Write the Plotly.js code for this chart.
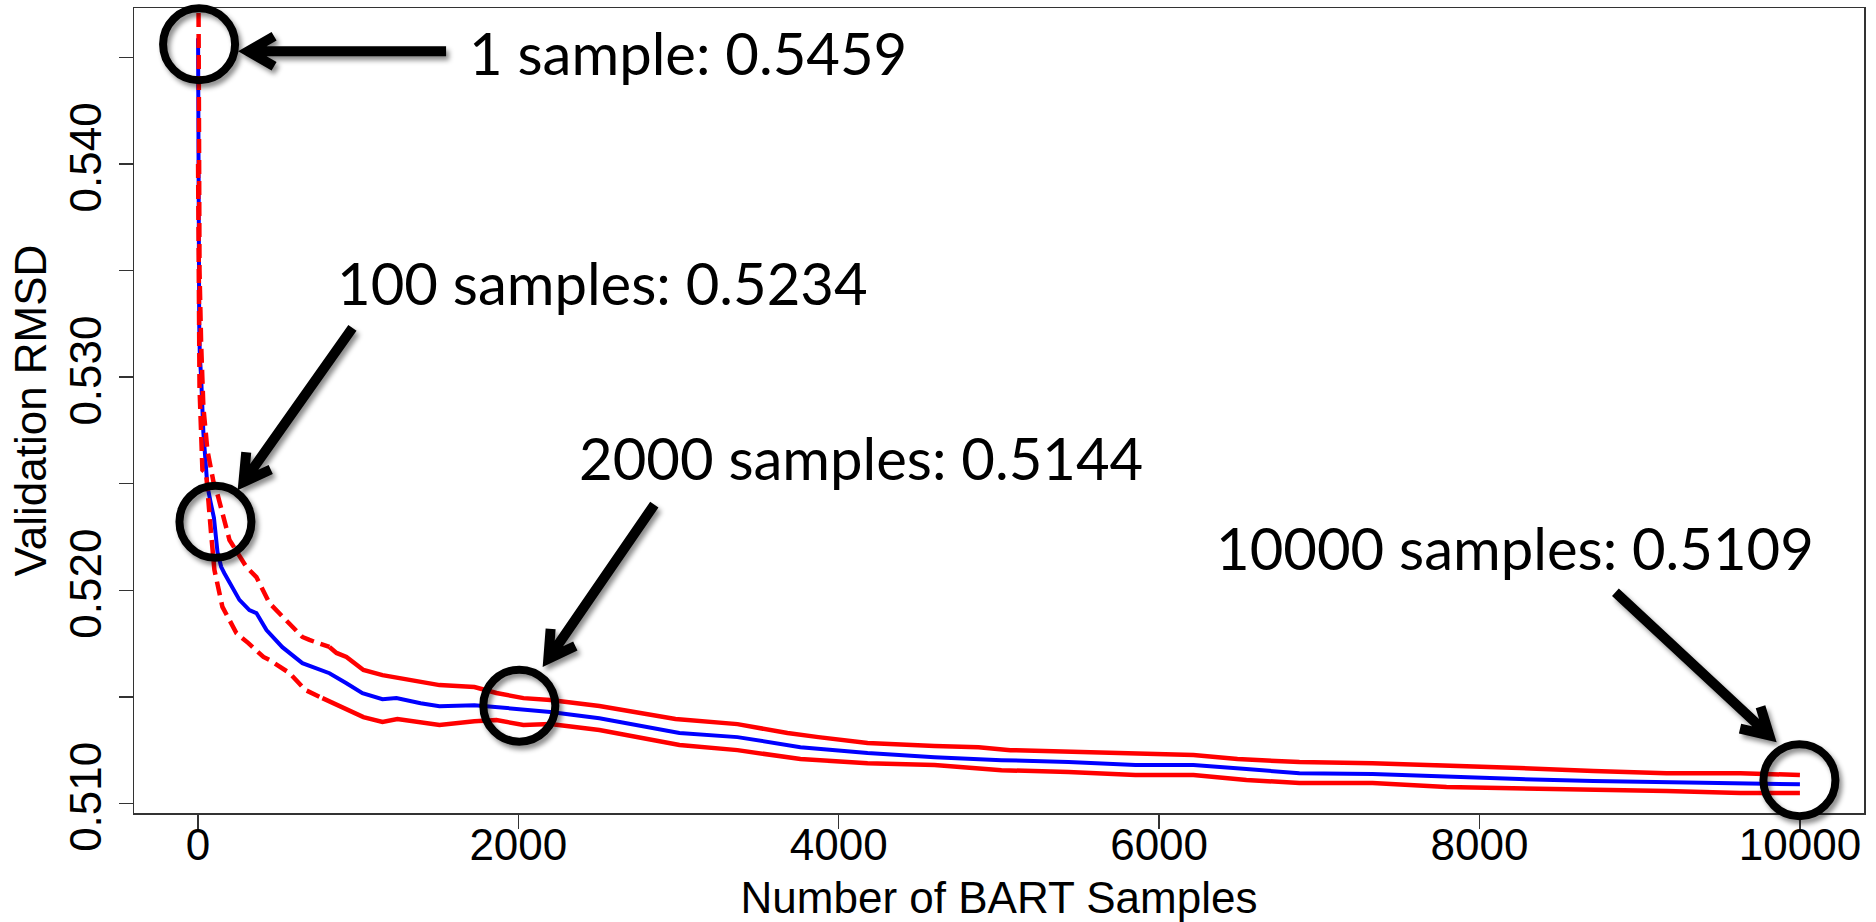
<!DOCTYPE html>
<html><head><meta charset="utf-8">
<script src="https://cdn.plot.ly/plotly-3.0.1.min.js"></script>
<style>
html,body{margin:0;padding:0;background:#fff;}
#chart{width:1876px;height:922px;}
#chart .shapelayer path{filter:url(#dshadow);}
</style></head><body>
<svg width="0" height="0" style="position:absolute"><defs>
<filter id="dshadow" filterUnits="userSpaceOnUse" x="-5000" y="-5000" width="12000" height="12000">
<feDropShadow dx="3" dy="4" stdDeviation="2.5" flood-color="#000" flood-opacity="0.45"/>
</filter></defs></svg>
<div id="chart"></div>
<script>
// ---- data ----
const blueN = [1,2,3,5,8,12,20,34,59,80,100,122,145,165,215,240,259,321,365,428,527,652,821,927,1027,1152,1239,1390,1508,1726,1863,2000,2200,2506,3006,3368,3761,4180,4598,5016,5434,5852,6214,6545,6876,7332,7794,8249,8711,9167,9629,10000];
const blueV = [0.54590,0.54150,0.53880,0.53520,0.53250,0.53100,0.53000,0.52740,0.52490,0.52410,0.52340,0.52180,0.52110,0.52080,0.52016,0.51987,0.51955,0.51907,0.51893,0.51813,0.51733,0.51658,0.51611,0.51564,0.51517,0.51489,0.51494,0.51470,0.51456,0.51461,0.51452,0.51440,0.51429,0.51400,0.51330,0.51311,0.51264,0.51236,0.51217,0.51203,0.51194,0.51180,0.51180,0.51161,0.51142,0.51138,0.51124,0.51114,0.51105,0.51100,0.51096,0.51090];

const upperN = [1,3,5,10,20,34,59,84,103,115,197,303,365,446,527,652,696,821,865,927,1033,1152,1390,1508,1726,1863,2032,2200,2506,2644,2981,3368,3680,3873,4180,4598,4873,5072,5434,5852,6214,6489,6876,7332,7794,8249,8711,9167,9629,10000];
const upperV = [0.55300,0.54400,0.53900,0.53500,0.53159,0.52860,0.52658,0.52565,0.52485,0.52471,0.52236,0.52109,0.52062,0.51940,0.51875,0.51781,0.51767,0.51734,0.51706,0.51687,0.51626,0.51602,0.51569,0.51555,0.51546,0.51518,0.51494,0.51485,0.51457,0.51438,0.51396,0.51372,0.51330,0.51311,0.51283,0.51269,0.51264,0.51250,0.51241,0.51231,0.51227,0.51208,0.51194,0.51189,0.51180,0.51166,0.51152,0.51142,0.51142,0.51133];

const lowerN = [1,3,5,10,20,28,51,72,82,103,134,153,197,240,315,340,409,446,571,671,777,908,1033,1152,1245,1508,1726,1863,2032,2200,2506,3006,3368,3761,4180,4598,5016,5434,5852,6214,6545,6876,7332,7794,8249,8711,9167,9629,10000];
const lowerV = [0.54000,0.53600,0.53208,0.52950,0.52738,0.52565,0.52550,0.52330,0.52269,0.52095,0.51987,0.51922,0.51860,0.51799,0.51752,0.51733,0.51687,0.51673,0.51612,0.51532,0.51494,0.51447,0.51405,0.51382,0.51396,0.51368,0.51386,0.51391,0.51368,0.51372,0.51344,0.51274,0.51250,0.51208,0.51189,0.51180,0.51156,0.51147,0.51133,0.51133,0.51110,0.51096,0.51096,0.51077,0.51072,0.51067,0.51058,0.51049,0.51049];

const markN = [1, 100, 2000, 10000];
const markV = [0.5459, 0.5234, 0.5144, 0.5109];

const xTicks = [0, 2000, 4000, 6000, 8000, 10000];
const xTickText = ['0', '2000', '4000', '6000', '8000', '10000'];
const yTicks = [0.510, 0.515, 0.520, 0.525, 0.530, 0.535, 0.540, 0.545];
const yTickText = ['0.510', '', '0.520', '', '0.530', '', '0.540', ''];

const xTitle = 'Number of BART Samples';
const yTitle = 'Validation RMSD';

// ---- styling / layout ----
const xRange = [-399, 10400];
const yRange = [0.50955, 0.54732];
const dashEnd = 700;

function split(N, V) {
  const k = N.findIndex(n => n > dashEnd);
  return {dN: N.slice(0, k + 1), dV: V.slice(0, k + 1), sN: N.slice(k), sV: V.slice(k)};
}
const up = split(upperN, upperV), lo = split(lowerN, lowerV);
const RED = '#ff0000', BLUE = '#0000ff';
const redDash = {color: RED, width: 4.5, dash: '14px,7px'};
const redSolid = {color: RED, width: 4.5};

const traces = [
  {x: blueN, y: blueV, mode: 'lines', line: {color: BLUE, width: 4}, hoverinfo: 'skip'},
  {x: up.dN, y: up.dV, mode: 'lines', line: redDash, hoverinfo: 'skip'},
  {x: up.sN, y: up.sV, mode: 'lines', line: redSolid, hoverinfo: 'skip'},
  {x: lo.dN, y: lo.dV, mode: 'lines', line: redDash, hoverinfo: 'skip'},
  {x: lo.sN, y: lo.sV, mode: 'lines', line: redSolid, hoverinfo: 'skip'}
];

// overlay geometry, screen-pixel offsets from each marked point (y down)
const circleOff = [[1, 6], [1.5, 4], [1, -4], [-0.5, -4]];
const circleR = 36;
const arrowTail = [[248, 13], [138.5, -190], [136, -205], [-184.5, -192]];
const arrowTip = [[43, 13], [25.5, -30], [26, -45], [-25.5, -44]];
const labelOff = [[269, 14], [121.5, -235], [59, -252], [-585.5, -237]];

const fx = n => (n - xRange[0]) / (xRange[1] - xRange[0]);
const fy = v => (v - yRange[0]) / (yRange[1] - yRange[0]);

function arrowPath(tail, tip) {
  const dx = tail[0] - tip[0], dy = tail[1] - tip[1];
  const L = Math.hypot(dx, dy), ux = dx / L, uy = dy / L;
  const back = 7, hx = tip[0] + ux * back, hy = tip[1] + uy * back;
  const wl = 30, a = 30 * Math.PI / 180;
  const rot = t => [ux * Math.cos(t) - uy * Math.sin(t), ux * Math.sin(t) + uy * Math.cos(t)];
  const w1 = rot(a), w2 = rot(-a);
  const P = (x, y) => x.toFixed(1) + ',' + (-y).toFixed(1);
  return 'M' + P(tail[0], tail[1]) + 'L' + P(hx, hy) +
         'M' + P(hx + w1[0] * wl, hy + w1[1] * wl) + 'L' + P(hx, hy) +
         'L' + P(hx + w2[0] * wl, hy + w2[1] * wl);
}

const shapes = [], annotations = [];
markN.forEach((n, i) => {
  const v = markV[i];
  const c = circleOff[i];
  shapes.push({type: 'circle', xref: 'paper', yref: 'paper', xsizemode: 'pixel', ysizemode: 'pixel',
    xanchor: fx(n), yanchor: fy(v), x0: c[0] - circleR, x1: c[0] + circleR, y0: -c[1] - circleR, y1: -c[1] + circleR,
    line: {color: '#000', width: 8}, fillcolor: 'rgba(0,0,0,0)'});
  shapes.push({type: 'path', xref: 'paper', yref: 'paper', xsizemode: 'pixel', ysizemode: 'pixel',
    xanchor: fx(n), yanchor: fy(v), path: arrowPath(arrowTail[i], arrowTip[i]),
    line: {color: '#000', width: 10}, fillcolor: 'rgba(0,0,0,0)'});
  annotations.push({xref: 'x', yref: 'y', x: n, y: v, xanchor: 'left', yanchor: 'middle',
    xshift: labelOff[i][0], yshift: -labelOff[i][1], showarrow: false,
    text: n + (n === 1 ? ' sample: ' : ' samples: ') + v.toFixed(4),
    font: {family: 'Lato, "Open Sans", sans-serif', size: 58, color: '#000'}});
});

const axisFont = {family: '"Liberation Sans", Arial, sans-serif', size: 44, color: '#000'};
const layout = {
  width: 1876, height: 922,
  margin: {l: 134, r: 12, t: 8, b: 109},
  paper_bgcolor: '#fff', plot_bgcolor: '#fff',
  showlegend: false,
  font: axisFont,
  xaxis: {range: xRange, tickmode: 'array', tickvals: xTicks, ticktext: xTickText,
    ticks: 'outside', ticklen: 14, tickwidth: 1.5, tickcolor: '#333', ticklabelstandoff: -21,
    showline: true, linecolor: '#333', linewidth: 1.5, mirror: true,
    showgrid: false, zeroline: false, tickfont: axisFont,
    title: {text: xTitle, font: axisFont, standoff: 14}},
  yaxis: {range: yRange, tickmode: 'array', tickvals: yTicks, ticktext: yTickText,
    ticks: 'outside', ticklen: 14, tickwidth: 1.5, tickcolor: '#333', tickangle: -90,
    showline: true, linecolor: '#333', linewidth: 1.5, mirror: true,
    showgrid: false, zeroline: false, tickfont: axisFont,
    title: {text: yTitle, font: axisFont, standoff: 0}},
  shapes: shapes,
  annotations: annotations
};

Plotly.newPlot('chart', traces, layout, {displayModeBar: false, staticPlot: true});
</script></body></html>
